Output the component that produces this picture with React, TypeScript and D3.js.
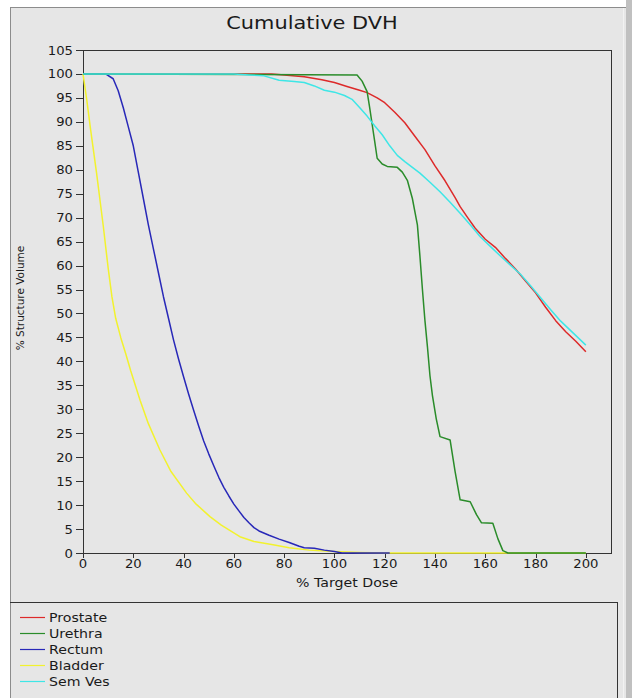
import React from "react";
import * as d3 from "d3";

const width = 632;
const height = 698;

// [dose %, volume %]
const prostate: [number, number][] = [
  [0, 100], [75, 100], [80, 99.8], [88, 99.4], [95, 98.8], [100, 98.2], [105, 97.4],
  [110, 96.6], [113, 96.1], [117, 95], [120, 94], [124, 92], [128, 89.8], [132, 87],
  [136, 84.2], [140, 80.8], [144, 77.7], [148, 74.2], [150, 72.3], [153, 70], [156, 67.8],
  [160, 65.5], [164, 63.8], [168, 61.5], [172, 59.3], [176, 56.8], [180, 54.3], [184, 51.3],
  [188, 48.5], [192, 46.2], [196, 44.2], [200, 42],
];
const urethra: [number, number][] = [
  [0, 100], [109, 99.8], [111, 98.5], [113, 96.3], [114, 93], [115, 89.5], [116, 86],
  [117, 82.4], [119, 81.2], [121, 80.7], [125, 80.5], [127, 79.5], [129, 77.8], [131, 74],
  [133, 68.5], [134, 62], [135, 55], [136, 48.5], [137, 43], [138, 37], [139, 32.8],
  [140.5, 28], [142, 24.3], [146, 23.6], [148, 17], [150, 11.1], [154, 10.7], [156.5, 8],
  [158.5, 6.3], [163, 6.2], [165, 3], [167, 0.5], [169, 0], [200, 0],
];
const rectum: [number, number][] = [
  [0, 100], [9, 100], [12, 99], [14, 96.5], [16, 93], [18, 89], [20, 85], [22, 79.5],
  [24, 74], [26, 68.5], [28, 63.5], [30, 58.5], [32, 53.5], [34, 49], [36, 44.5], [38, 40.5],
  [40, 36.8], [42, 33.2], [44, 29.8], [46, 26.5], [48, 23.4], [50, 20.7], [52, 18.2],
  [54, 15.8], [56, 13.7], [58, 11.9], [60, 10.2], [62, 8.8], [64, 7.4], [66, 6.3], [68, 5.3],
  [70, 4.6], [74, 3.7], [78, 2.9], [82, 2.2], [86, 1.4], [88, 1.1], [92, 1.0], [96, 0.6],
  [100, 0.3], [103, 0], [122, 0],
];
const bladder: [number, number][] = [
  [0, 100], [1.5, 94.6], [3, 88.5], [5.4, 79.3], [8.1, 68.1], [10, 59.5], [11.5, 53.5],
  [13, 49], [15, 45], [17, 41.6], [19, 38], [22.7, 31.9], [26, 27], [30.6, 21.5], [35, 17],
  [41.2, 12.5], [45, 10.2], [50.5, 7.6], [55, 5.8], [62.4, 3.4], [68, 2.4], [75.6, 1.7],
  [82, 1.1], [90, 0.6], [100, 0.3], [110, 0.1], [120, 0], [200, 0],
];
const semVes: [number, number][] = [
  [0, 100], [60, 100], [66, 99.8], [72, 99.6], [78, 98.7], [84, 98.4], [88, 98.2],
  [92, 97.5], [96, 96.6], [100, 96.2], [104, 95.5], [107, 94.7], [110, 93], [113, 91.2],
  [116, 89.2], [119, 87.3], [122, 85], [125, 83], [128, 81.7], [131, 80.5], [134, 79.3],
  [138, 77.4], [142, 75.4], [146, 73.2], [150, 70.9], [154, 68.5], [158, 66], [162, 64],
  [166, 62], [170, 60.1], [174, 58.2], [178, 55.8], [182, 53.3], [186, 50.8], [190, 48.4],
  [195, 45.9], [200, 43.4],
];

const legendNames = ["Prostate", "Urethra", "Rectum", "Bladder", "Sem Ves"];
const legendColors = ["#dd2a2a", "#2a8c2a", "#2828b8", "#f2f22e", "#3ee6e6"];
// drawing order (bottom to top), index into legend
const drawOrder = [3, 0, 2, 1, 4];
const seriesData = [prostate, urethra, rectum, bladder, semVes];

const xTicks = d3.range(0, 201, 20);
const yTicks = d3.range(0, 106, 5);

const FONT = "'DejaVu Sans', Verdana, sans-serif";

// the original screenshot is stretched horizontally a bit
function SText({ x, y, size, sx = 1.18, anchor = "start", children, weight = "normal" }: any) {
  return (
    <g transform={`translate(${x},${y}) scale(${sx},1)`}>
      <text fontSize={size} fontFamily={FONT} textAnchor={anchor} fill="#1a1a1a" fontWeight={weight}>
        {children}
      </text>
    </g>
  );
}

export default function App() {
  const x = d3.scaleLinear().domain([0, 210]).range([83, 611]);
  const y = d3.scaleLinear().domain([0, 105]).range([553, 50]);
  const line = d3
    .line<[number, number]>()
    .x((d) => x(d[0]))
    .y((d) => y(d[1]));

  return (
    <svg
      width={width}
      height={height}
      style={{ position: "absolute", left: 0, top: 0, background: "#ffffff" }}
    >
      {/* window frame */}
      <rect x={10} y={7} width={616} height={691} fill="#e6e6e6" />
      <rect x={626} y={0} width={6} height={height} fill="#c0c0c0" />
      <line x1={623.5} y1={7} x2={623.5} y2={height} stroke="#f2f2f2" />
      <line x1={10} y1={7.5} x2={626} y2={7.5} stroke="#8c8c8c" />
      <line x1={10.5} y1={7} x2={10.5} y2={height} stroke="#8c8c8c" />

      <SText x={312} y={29} size={18} sx={1.16} anchor="middle">Cumulative DVH</SText>

      {/* plot border */}
      <rect x={83.5} y={50.5} width={528} height={503} fill="#e6e6e6" stroke="#333" />

      {yTicks.map((t) => (
        <g key={"y" + t}>
          <line x1={76} x2={83} y1={Math.round(y(t)) + 0.5} y2={Math.round(y(t)) + 0.5} stroke="#333" />
          <SText x={73} y={y(t) + 4.5} size={12} sx={1.1} anchor="end">{t}</SText>
        </g>
      ))}
      {xTicks.map((t) => (
        <g key={"x" + t}>
          <line x1={Math.round(x(t)) + 0.5} x2={Math.round(x(t)) + 0.5} y1={553} y2={558} stroke="#333" />
          <SText x={x(t)} y={568} size={12} sx={1.1} anchor="middle">{t}</SText>
        </g>
      ))}

      <SText x={347} y={587} size={12} anchor="middle">% Target Dose</SText>
      <text
        transform={`translate(24,298) rotate(-90)`}
        fontSize={10.5}
        fontFamily={FONT}
        textAnchor="middle"
        fill="#1a1a1a"
      >
        % Structure Volume
      </text>

      <g fill="none" strokeWidth={1.5} strokeLinejoin="round">
        {drawOrder.map((i) => (
          <path key={legendNames[i]} d={line(seriesData[i]) || ""} stroke={legendColors[i]} />
        ))}
      </g>

      {/* legend box */}
      <line x1={10} y1={602.5} x2={617} y2={602.5} stroke="#333" />
      <line x1={617.5} y1={602} x2={617.5} y2={height} stroke="#333" />
      {legendNames.map((name, i) => (
        <g key={name}>
          <line x1={20} x2={45} y1={617.5 + i * 16} y2={617.5 + i * 16} stroke={legendColors[i]} strokeWidth={1.2} />
          <SText x={49} y={621.5 + i * 16} size={12}>{name}</SText>
        </g>
      ))}
    </svg>
  );
}
